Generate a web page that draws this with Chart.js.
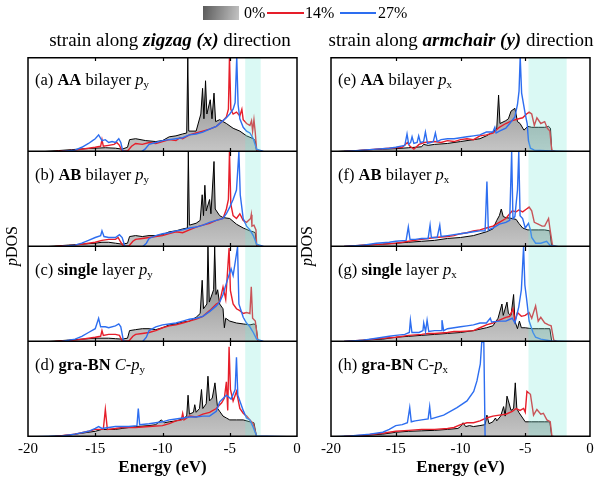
<!DOCTYPE html>
<html><head><meta charset="utf-8">
<script src="https://cdn.jsdelivr.net/npm/chart.js@4.4.1/dist/chart.umd.min.js"></script>
<style>
body{margin:0;width:600px;height:478px;overflow:hidden;background:#fff;position:relative;font-family:"Liberation Serif","Times New Roman",serif;color:#000}
canvas{position:absolute}
.t{position:absolute;white-space:nowrap;line-height:16px}
.lab{font-size:16.5px}
.lab sub{font-size:11px;vertical-align:-3px;line-height:0}
.title{font-size:19px;line-height:19px}
.rot{position:absolute;font-size:16px;line-height:16px;transform:translate(-50%,-50%) rotate(-90deg);white-space:nowrap}
</style></head><body>
<script>
// ---------------- data (energy in eV, pDOS in panel-relative units 0..100) ----------------
const energyTicks = [-20, -15, -10, -5, 0];
const seriesLabels = ['0%', '14%', '27%'];

const a0 = [[-20,0],[-18.75,0.5],[-17.75,1.5],[-16.75,2.5],[-15.75,3.5],[-15,4],[-14.25,4.5],[-13.5,4],[-13,3],[-12.6,5],[-12.45,13],[-12,14],[-11.25,12],[-10.5,11],[-10,12],[-9.5,16],[-9,17],[-8.5,19],[-8.2,20],[-8.12,100],[-8.05,22],[-7.5,22],[-7.15,40],[-7.02,67],[-6.92,35],[-6.8,75],[-6.7,40],[-6.45,55],[-6.32,35],[-6.17,62],[-6.05,32],[-5.75,34],[-5.25,30],[-4.75,25],[-4.25,22],[-3.75,17],[-3.25,14],[-3.1,12],[-3,0],[0,0]];
const a14 = [[-20,0],[-18,0.5],[-16.5,2],[-15.5,4],[-15,5],[-14.6,6],[-14.5,13],[-14.4,6],[-14,7],[-13.6,8],[-13.4,10],[-13.2,7],[-13,1],[-12.6,1],[-12.3,6],[-12,9],[-11.5,8],[-11,10],[-10.5,9],[-10,11],[-9.5,13],[-9,12],[-8.7,15],[-8.5,14],[-8,18],[-7.5,20],[-7,22],[-6.5,24],[-6,27],[-5.5,33],[-5.25,37],[-5.1,45],[-5.02,100],[-4.92,45],[-4.75,40],[-4.5,42],[-4.25,38],[-4.1,45],[-4,34],[-3.75,30],[-3.5,28],[-3.38,33],[-3.3,22],[-3.2,34],[-3.1,20],[-3,2],[-2.6,0],[0,0]];
const a27 = [[-20,0],[-17.5,0.5],[-16.5,2],[-16,5],[-15.5,9],[-15.2,12],[-15,14],[-14.75,18],[-14.5,12],[-14.25,13],[-14,10],[-13.75,11],[-13.5,10],[-13.25,14],[-13.1,10],[-12.95,1],[-12.5,0],[-11.6,0],[-11.3,3],[-11,8],[-10.5,10],[-10,12],[-9.5,13],[-9,14],[-8.5,15],[-8,18],[-7.5,19],[-7,21],[-6.5,24],[-6,27],[-5.5,33],[-5.25,36],[-5,40],[-4.75,45],[-4.6,52],[-4.48,100],[-4.38,50],[-4.25,35],[-4,26],[-3.75,22],[-3.5,20],[-3.25,14],[-3,3],[-2.5,0.5],[0,0]];

const b0 = [[-20,0],[-18.5,0.5],[-17,2],[-16,3],[-15,4],[-14.5,5],[-14,5],[-13.5,4],[-13,3],[-12.6,4],[-12.45,11],[-12,12],[-11.5,11],[-11,12],[-10.5,12],[-10,13],[-9.5,16],[-9,17],[-8.5,19],[-8.15,20],[-8.08,100],[-8,23],[-7.5,25],[-7.2,28],[-7.05,55],[-6.95,33],[-6.85,65],[-6.75,38],[-6.5,50],[-6.4,35],[-6.17,90],[-6.08,40],[-5.75,33],[-5.5,31],[-5,30],[-4.5,24],[-4,20],[-3.5,17],[-3.25,16],[-3.1,15],[-3,0],[0,0]];
const b14 = [[-20,0],[-18,0.5],[-16.5,2],[-15.5,4],[-15,5],[-14.5,7],[-14,8],[-13.5,8],[-13.3,10],[-13.1,5],[-12.9,1],[-12.5,1],[-12.2,6],[-12,8],[-11.5,9],[-11,10],[-10.5,11],[-10,12],[-9.5,14],[-9,16],[-8.5,15],[-8,18],[-7.5,21],[-7,23],[-6.5,25],[-6,28],[-5.5,30],[-5.25,40],[-5.1,50],[-5.02,100],[-4.92,45],[-4.75,33],[-4.5,30],[-4.25,35],[-4,28],[-3.75,26],[-3.45,30],[-3.4,34],[-3.35,22],[-3.2,23],[-3.05,18],[-3,2],[-2.6,0],[0,0]];
const b27 = [[-20,0],[-17.5,0.5],[-16.5,2],[-16,4],[-15.5,7],[-15,10],[-14.6,12],[-14.5,17],[-14.35,11],[-14,10],[-13.5,10],[-13.2,13],[-13,10],[-12.8,1],[-12.5,0],[-11.5,0],[-11.2,4],[-11,9],[-10.5,12],[-10,14],[-9.5,15],[-9,17],[-8.5,18],[-8,20],[-7.5,21],[-7,23],[-6.5,26],[-6,28],[-5.5,30],[-5.25,35],[-5,42],[-4.75,50],[-4.5,60],[-4.32,100],[-4.22,55],[-4,30],[-3.75,22],[-3.5,18],[-3.25,12],[-3,3],[-2.5,0.5],[0,0]];

const c0 = [[-20,0],[-18.5,0.5],[-17,2],[-16,3],[-15,4],[-14,4],[-13.5,3.5],[-13,3],[-12.6,4],[-12.45,12],[-12,13],[-11.5,14],[-11,14],[-10.5,13],[-10,15],[-9.5,18],[-9,19],[-8.5,21],[-8,22],[-7.5,26],[-7.2,30],[-7.05,65],[-6.95,35],[-6.7,40],[-6.62,100],[-6.52,42],[-6.2,55],[-6.12,100],[-6.02,50],[-5.9,55],[-5.75,40],[-5.5,35],[-5.4,15],[-5.3,25],[-5,22],[-4.5,20],[-4,19],[-3.5,18],[-3.2,19],[-3.05,18],[-2.9,0],[0,0]];
const c14 = [[-20,0],[-18,0.5],[-16.5,2],[-15.5,4],[-15,5],[-14.6,6],[-14.5,12],[-14.4,7],[-14,8],[-13.5,8],[-13.2,7],[-13,1],[-12.5,1],[-12.2,6],[-12,8],[-11.5,9],[-11,10],[-10.5,12],[-10,15],[-9.5,17],[-9,18],[-8.5,20],[-8,22],[-7.5,24],[-7,27],[-6.5,33],[-6,40],[-5.75,42],[-5.5,58],[-5.3,45],[-5.05,99],[-4.95,54],[-4.75,40],[-4.5,35],[-4.25,33],[-4,30],[-3.75,31],[-3.5,30],[-3.4,58],[-3.3,25],[-3.1,22],[-2.9,0],[0,0]];
const c27 = [[-20,0],[-17.5,0.5],[-16.5,3],[-16,6],[-15.5,10],[-15,14],[-14.75,25],[-14.6,16],[-14.25,16],[-14,15],[-13.5,17],[-13.25,19],[-13.1,16],[-12.9,1],[-12.5,0],[-11.5,0],[-11.2,5],[-11,12],[-10.5,16],[-10,18],[-9.5,19],[-9,20],[-8.5,22],[-8,24],[-7.5,25],[-7,27],[-6.5,32],[-6,38],[-5.75,42],[-5.5,50],[-5.25,62],[-4.9,77],[-4.75,70],[-4.42,100],[-4.32,40],[-4,26],[-3.75,20],[-3.5,16],[-3.25,10],[-3,3],[-2.5,0.5],[0,0]];

const d0 = [[-20,0],[-18.5,0.5],[-17,2],[-16,4],[-15,6],[-14.5,8],[-14,8],[-13.5,8],[-13,9],[-12.5,10],[-12,11],[-11,12],[-10.5,13],[-10.1,18],[-9.85,15],[-9.5,16],[-9,17],[-8.5,19],[-8.2,22],[-8.1,44],[-8,24],[-7.7,26],[-7.6,34],[-7.5,26],[-7.25,30],[-7.1,50],[-7,30],[-6.75,35],[-6.62,64],[-6.5,38],[-6.3,41],[-6.1,57],[-5.9,30],[-5.75,27],[-5.5,22],[-5.25,20],[-5,18],[-4.5,18],[-4,18],[-3.5,16],[-3.2,15],[-3,0],[0,0]];
const d14 = [[-20,0],[-18,0.5],[-16.5,3],[-15.5,6],[-15,8],[-14.4,8],[-14.25,29],[-14.1,8],[-13.5,9],[-13,10],[-12,10],[-11,11],[-10,12],[-9.5,14],[-9,17],[-8.6,18],[-8.5,25],[-8.4,18],[-8,22],[-7.5,21],[-7,24],[-6.5,26],[-6,30],[-5.6,36],[-5.4,41],[-5.25,58],[-5.15,28],[-5.05,95],[-4.95,50],[-4.75,38],[-4.5,48],[-4.25,30],[-4,25],[-3.75,22],[-3.5,18],[-3.25,14],[-3,0],[0,0]];
const d27 = [[-20,0],[-17.5,1],[-16.5,3],[-15.5,6],[-15,9],[-14.75,11],[-14.5,9],[-14,10],[-13.5,11],[-13,11],[-12.5,11],[-11.9,12],[-11.8,30],[-11.7,13],[-11,14],[-10.5,15],[-10,16],[-9.5,18],[-9,19],[-8.5,20],[-8,21],[-7.5,21],[-7,22],[-6.5,22],[-6,27],[-5.75,37],[-5.25,44],[-4.9,40],[-4.6,50],[-4.5,84],[-4.4,44],[-4,28],[-3.75,20],[-3.5,18],[-3.25,10],[-3,1],[0,0]];

const e0 = [[-20,0],[-19,1],[-18,1.5],[-17,2.5],[-16,3],[-15,3.5],[-14,4.5],[-13,5.5],[-12.85,8],[-12.5,7],[-12,8],[-11,9],[-10,11],[-9,13],[-8.5,14],[-8,17],[-7.5,21],[-7.2,25],[-7.06,60],[-6.95,30],[-6.5,33],[-6.3,35],[-6.1,43],[-5.8,46],[-5.6,32],[-5.4,30],[-5.1,23],[-4.8,27],[-4.5,26],[-4,26],[-3.5,26],[-3.2,27],[-3.05,25],[-2.95,0],[0,0]];
const e14 = [[-20,0],[-19,0.5],[-18,1.5],[-16.5,3],[-15.5,4],[-14.5,5],[-14.1,10],[-13.9,6],[-13.6,3],[-13.2,8],[-12.8,10],[-12,11],[-11.5,10],[-11,12],[-10.5,11],[-10,13],[-9.5,14],[-9,13],[-8.5,17],[-8,18],[-7.5,20],[-7,26],[-6.5,30],[-6,33],[-5.5,35],[-5.2,36],[-4.9,40],[-4.7,42],[-4.5,40],[-4.3,28],[-4.1,36],[-3.8,30],[-3.5,32],[-3.3,25],[-3.1,22],[-2.95,2],[-2.6,0],[0,0]];
const e27 = [[-20,0],[-19,0.5],[-17.5,2],[-16.5,3],[-15.5,4],[-15,5],[-14.3,7],[-14.13,19],[-14,8],[-13.85,10],[-13.74,16],[-13.6,9],[-13.35,10],[-13.23,17],[-13.1,10],[-12.85,11],[-12.71,21],[-12.55,9],[-12.3,10],[-12.1,11],[-11.94,20],[-11.8,11],[-11.5,13],[-11,14],[-10.5,14],[-10,15],[-9.5,16],[-9,17],[-8.5,18],[-8,21],[-7.5,21],[-7.35,26],[-7.25,20],[-7,22],[-6.5,25],[-6.2,30],[-5.8,37],[-5.6,50],[-5.48,64],[-5.39,100],[-5.28,62],[-5,40],[-4.85,30],[-4.75,12],[-4.6,4],[-4.3,2],[-3,1],[-2,0.5],[0,0]];

const f0 = [[-20,0],[-19,0.5],[-17.5,2],[-16,3],[-15,4],[-14,5],[-13,6],[-12,7],[-11,9],[-10,10],[-9,12],[-8.5,14],[-8,16],[-7.5,19],[-7.2,28],[-7,33],[-6.85,40],[-6.7,32],[-6.5,31],[-6,30],[-5.7,29],[-5.5,25],[-5.2,20],[-4.8,18],[-4.5,18],[-4,18],[-3.5,18],[-3.1,17],[-2.95,0],[0,0]];
const f14 = [[-20,0],[-19,0.5],[-17.5,2],[-16,3],[-15,4],[-14,6],[-13,8],[-12.5,9],[-12,10],[-11,11],[-10.5,12],[-10,14],[-9.5,15],[-9,17],[-8.5,18],[-8,20],[-7.5,22],[-7,26],[-6.5,30],[-6.2,35],[-6,38],[-5.7,37],[-5.5,39],[-5.2,37],[-4.9,40],[-4.7,42],[-4.5,38],[-4.3,26],[-4,24],[-3.7,22],[-3.5,22],[-3.2,30],[-3.1,20],[-2.9,2],[-2.6,0],[0,0]];
const f27 = [[-20,0],[-19,0.5],[-17.5,2],[-16.5,4],[-15.5,5],[-15,6],[-14.2,7],[-14.03,21],[-13.9,8],[-13.5,8],[-13,9],[-12.5,9],[-12.35,23],[-12.25,10],[-11.8,10],[-11.6,23],[-11.5,11],[-11,12],[-10.5,13],[-10,14],[-9.5,15],[-9,16],[-8.5,17],[-8.1,17],[-7.96,69],[-7.85,18],[-7.5,20],[-7,24],[-6.5,26],[-6.2,28],[-6.05,100],[-5.95,30],[-5.8,32],[-5.6,60],[-5.5,100],[-5.4,33],[-5.2,30],[-5,20],[-4.75,25],[-4.6,18],[-4.5,10],[-4.2,4],[-3.8,4],[-3.35,6],[-3.1,2],[-2.5,0.5],[0,0]];

const g0 = [[-20,0],[-19,0.5],[-17.5,2],[-16,3],[-15,5],[-14,6],[-13,7],[-12,8],[-11,9],[-10,10],[-9,12],[-8,15],[-7.5,17],[-7.1,25],[-6.8,40],[-6.7,28],[-6.41,42],[-6.3,30],[-6.1,28],[-5.9,50],[-5.8,22],[-5.6,14],[-5.45,22],[-5.3,15],[-5,15],[-4.5,14],[-4,14],[-3.5,14],[-3.1,14],[-2.95,0],[0,0]];
const g14 = [[-20,0],[-19,0.5],[-17.5,2],[-16,4],[-15,5],[-14,7],[-13,8],[-12.5,9],[-12,9],[-11,10],[-10.5,11],[-10,11],[-9,12],[-8.5,15],[-8,18],[-7.5,20],[-7,23],[-6.5,26],[-6.2,27],[-5.95,35],[-5.8,22],[-5.6,31],[-5.3,27],[-5,28],[-4.7,31],[-4.5,25],[-4.2,38],[-4,22],[-3.8,26],[-3.5,20],[-3.2,18],[-3,17],[-2.8,2],[-2.5,0],[0,0]];
const g27 = [[-20,0],[-19,0.5],[-17.5,2],[-16.5,4],[-15.5,6],[-15,7],[-14.3,8],[-13.95,10],[-13.87,23],[-13.75,10],[-13.2,10],[-12.9,12],[-12.84,20],[-12.7,11],[-12.58,23],[-12.45,11],[-12,12],[-11.5,12],[-11.43,23],[-11.3,12],[-11,14],[-10.5,15],[-10,16],[-9.5,17],[-9,18],[-8.5,20],[-8,20],[-7.7,25],[-7.6,21],[-7,22],[-6.5,22],[-6,25],[-5.8,20],[-5.5,37],[-5.3,55],[-5.13,100],[-5.03,60],[-4.9,46],[-4.7,22],[-4.4,10],[-4.2,5],[-3.8,3],[-3,1],[-2,0.5],[0,0]];

const h0 = [[-20,0],[-18.5,1],[-17,2],[-16,3],[-15,5],[-14,6],[-13,6.5],[-12,7],[-11,8],[-10.2,9],[-10,11],[-9.8,15],[-9.6,11],[-9.3,12],[-9,11],[-8.5,12],[-8.1,13],[-7.96,23],[-7.8,14],[-7.5,16],[-7.3,20],[-7.2,17],[-6.9,22],[-6.67,32],[-6.55,22],[-6.41,43],[-6.3,38],[-6.1,28],[-5.9,30],[-5.77,57],[-5.65,30],[-5.5,26],[-5.2,20],[-5,16],[-4.5,16],[-4,16],[-3.5,16],[-3.1,16],[-2.95,0],[0,0]];
const h14 = [[-20,0],[-19,0.5],[-17.5,2],[-16,4],[-15,6],[-14,7],[-13,8],[-12,8],[-11,9],[-10.5,10],[-10,13],[-9.5,15],[-9,15],[-8.5,17],[-8,20],[-7.5,22],[-7,23],[-6.5,24],[-6,27],[-5.7,30],[-5.4,28],[-5.13,30],[-5,26],[-4.87,48],[-4.6,45],[-4.36,23],[-4.1,29],[-3.8,24],[-3.6,25],[-3.33,18],[-3.07,16],[-2.94,1],[-2.7,0],[0,0]];
const h27 = [[-20,0],[-18.5,1],[-17,3],[-16,5],[-15.5,8],[-15,12],[-14.5,13],[-14.1,15],[-13.92,31],[-13.8,16],[-13.5,17],[-13,18],[-12.5,19],[-12.38,32],[-12.28,19],[-11.3,23],[-10.27,31],[-9.5,38],[-8.98,48],[-8.73,59],[-8.47,77],[-8.36,100],[-8.2,100],[-8.1,0],[0,0]];

const fermiLeft = [-3.85, -2.7];
const fermiRight = [-4.75, -1.8];

// ---------------- layout ----------------
const FONT = '"Liberation Serif","Times New Roman",serif';
const RED = 'rgb(230,30,42)';
const BLUE = 'rgb(45,110,240)';
const COLS = [{left:28, right:297}, {left:331, right:590}];
const ROW_TOPS = [57, 152, 247, 342];
const PANEL_H = 95;
const PADX = 16;

const panels = [
  {col:0,row:0,data:[a0,a14,a27],fermi:fermiLeft,label:'(a) <b>AA</b> bilayer <i>p</i><sub>y</sub>'},
  {col:0,row:1,data:[b0,b14,b27],fermi:fermiLeft,label:'(b) <b>AB</b> bilayer <i>p</i><sub>y</sub>'},
  {col:0,row:2,data:[c0,c14,c27],fermi:fermiLeft,label:'(c) <b>single</b> layer <i>p</i><sub>y</sub>'},
  {col:0,row:3,data:[d0,d14,d27],fermi:fermiLeft,label:'(d) <b>gra-BN</b> <i>C-p</i><sub>y</sub>'},
  {col:1,row:0,data:[e0,e14,e27],fermi:fermiRight,label:'(e) <b>AA</b> bilayer <i>p</i><sub>x</sub>'},
  {col:1,row:1,data:[f0,f14,f27],fermi:fermiRight,label:'(f) <b>AB</b> bilayer <i>p</i><sub>x</sub>'},
  {col:1,row:2,data:[g0,g14,g27],fermi:fermiRight,label:'(g) <b>single</b> layer <i>p</i><sub>x</sub>'},
  {col:1,row:3,data:[h0,h14,h27],fermi:fermiRight,label:'(h) <b>gra-BN</b> C-<i>p</i><sub>x</sub>'}
];

const grayFill = (ctx) => {
  const ch = ctx.chart, a = ch.chartArea;
  if (!a) return '#aaa';
  const g = ch.ctx.createLinearGradient(0, a.top, 0, a.bottom);
  g.addColorStop(0, '#6a6a6a');
  g.addColorStop(0.6, '#a6a6a6');
  g.addColorStop(1, '#c6c6c6');
  return g;
};

const panelPlugin = {
  id: 'panelDeco',
  afterDatasetsDraw(chart, args, opts) {
    const {ctx, chartArea: a, scales: {x}} = chart;
    const x1 = x.getPixelForValue(opts.fermi[0]), x2 = x.getPixelForValue(opts.fermi[1]);
    ctx.save();
    ctx.fillStyle = 'rgba(120,232,215,0.27)';
    ctx.fillRect(x1, a.top, x2 - x1, a.bottom - a.top);
    ctx.restore();
  },
  afterDraw(chart, args, opts) {
    const {ctx, chartArea: a, scales: {x}} = chart;
    ctx.save();
    ctx.strokeStyle = '#000';
    ctx.lineWidth = 1.5;
    ctx.beginPath();
    ctx.moveTo(a.left, a.top); ctx.lineTo(a.left, a.bottom);
    ctx.moveTo(a.right, a.top); ctx.lineTo(a.right, a.bottom);
    ctx.moveTo(a.left - 0.75, a.bottom - 0.75); ctx.lineTo(a.right + 0.75, a.bottom - 0.75);
    if (opts.first) { ctx.moveTo(a.left - 0.75, a.top + 0.75); ctx.lineTo(a.right + 0.75, a.top + 0.75); }
    ctx.stroke();
    ctx.lineWidth = 1.2;
    ctx.beginPath();
    energyTicks.slice(1, -1).forEach(v => {
      const px = Math.round(x.getPixelForValue(v)) + 0.5;
      ctx.moveTo(px, a.top); ctx.lineTo(px, a.top + 4);
      ctx.moveTo(px, a.bottom); ctx.lineTo(px, a.bottom - 4);
    });
    ctx.stroke();
    ctx.restore();
  }
};

function addText(html, cls, left, top, extra) {
  const d = document.createElement('div');
  d.className = 't ' + cls;
  d.innerHTML = html;
  d.style.left = left + 'px';
  d.style.top = top + 'px';
  if (extra) Object.assign(d.style, extra);
  document.body.appendChild(d);
  return d;
}

panels.forEach(p => {
  const col = COLS[p.col];
  const isBottom = p.row === 3;
  const w = col.right - col.left + 2 * PADX;
  const h = PANEL_H + (isBottom ? 41 : 0);
  const cv = document.createElement('canvas');
  cv.width = w; cv.height = h;
  cv.style.left = (col.left - PADX) + 'px';
  cv.style.top = ROW_TOPS[p.row] + 'px';
  cv.style.width = w + 'px'; cv.style.height = h + 'px';
  document.body.appendChild(cv);
  const xScale = {type: 'linear', min: energyTicks[0], max: energyTicks[energyTicks.length - 1], display: isBottom,
    grid: {display: false, drawTicks: false}, border: {display: false},
    ticks: {stepSize: 5, color: '#000', font: {family: FONT, size: 15}, padding: 3, maxRotation: 0, autoSkip: false},
    title: {display: isBottom, text: 'Energy (eV)', color: '#000', font: {family: FONT, size: 17, weight: 'bold'}, padding: 0}};
  if (isBottom) xScale.afterFit = s => { s.height = 41; };
  new Chart(cv, {
    type: 'line',
    data: {datasets: [
      {label: seriesLabels[0], data: p.data[0], borderColor: '#000', borderWidth: 1, fill: 'origin', backgroundColor: grayFill, order: 3},
      {label: seriesLabels[1], data: p.data[1], borderColor: RED, borderWidth: 1.4, fill: false, order: 2},
      {label: seriesLabels[2], data: p.data[2], borderColor: BLUE, borderWidth: 1.4, fill: false, order: 1}
    ]},
    options: {
      responsive: false, animation: false, devicePixelRatio: 1,
      layout: {padding: {left: PADX, right: PADX, top: 0, bottom: 0}},
      elements: {point: {radius: 0}, line: {tension: 0}},
      plugins: {legend: {display: false}, tooltip: {enabled: false}, panelDeco: {fermi: p.fermi, first: p.row === 0}},
      scales: {x: xScale, y: {min: 0, max: 100, display: false}}
    },
    plugins: [panelPlugin]
  });
  addText(p.label, 'lab', col.left + 7, ROW_TOPS[p.row] + 15);
});

// titles
addText('strain along <b><i>zigzag (x)</i></b> direction', 'title', 170, 30, {transform: 'translateX(-50%)', lineHeight: '19px'});
addText('strain along <b><i>armchair (y)</i></b> direction', 'title', 461, 30, {transform: 'translateX(-50%)', lineHeight: '19px'});

// y labels
[12, 307].forEach(xc => {
  const d = document.createElement('div');
  d.className = 'rot';
  d.innerHTML = '<i>p</i>DOS';
  d.style.left = xc + 'px'; d.style.top = '246px';
  document.body.appendChild(d);
});

// legend
const box = document.createElement('div');
Object.assign(box.style, {position: 'absolute', left: '203px', top: '6px', width: '36px', height: '14px', background: 'linear-gradient(100deg,#5a5a5a,#c4c4c4)'});
document.body.appendChild(box);
addText(seriesLabels[0], '', 244, 5, {fontSize: '16px'});
[[267, 304, RED], [340, 376, BLUE]].forEach(([x1, x2, c]) => {
  const l = document.createElement('div');
  Object.assign(l.style, {position: 'absolute', left: x1 + 'px', top: '12px', width: (x2 - x1) + 'px', height: '2px', backgroundColor: c});
  document.body.appendChild(l);
});
addText(seriesLabels[1], '', 305, 5, {fontSize: '16px'});
addText(seriesLabels[2], '', 378, 5, {fontSize: '16px'});
</script>
</body></html>
